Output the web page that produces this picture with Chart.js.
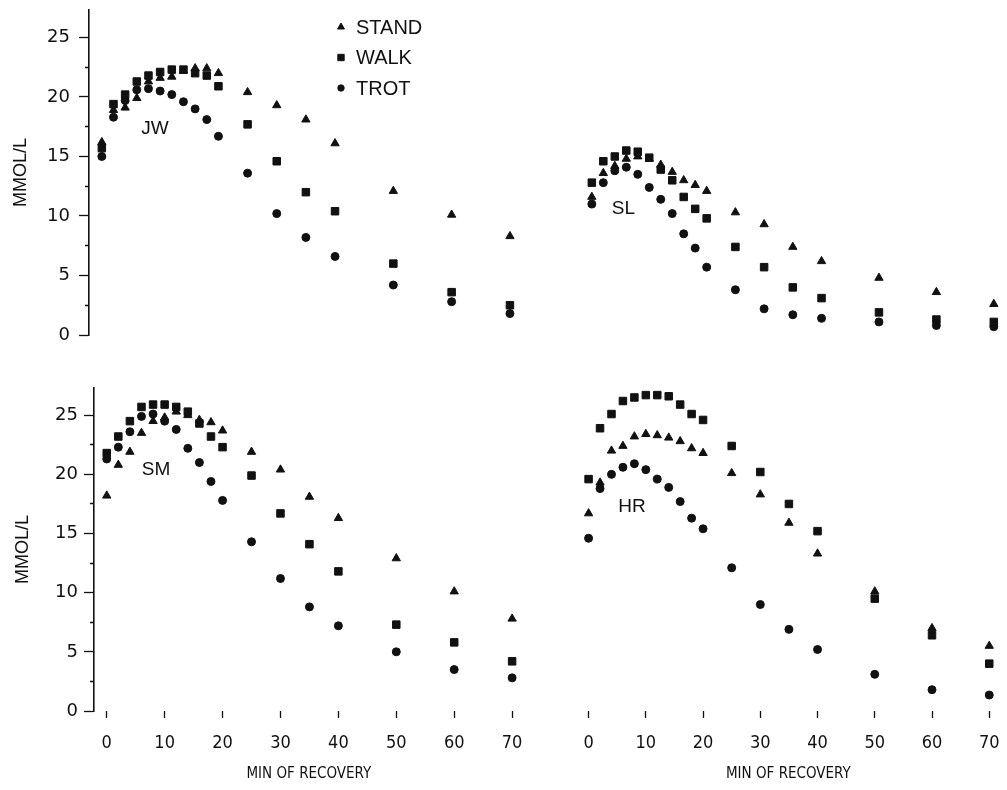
<!DOCTYPE html>
<html>
<head>
<meta charset="utf-8">
<script src="https://cdn.jsdelivr.net/npm/chart.js@4.4.1/dist/chart.umd.min.js"></script>
<style>
  html, body { margin: 0; padding: 0; background: #fff; }
  #wrap { position: relative; width: 1007px; height: 790px; overflow: hidden; }
  #wrap canvas { position: absolute; }
</style>
</head>
<body>
<div id="wrap">
  <canvas id="jw" width="530" height="370" style="left:0px;top:0px"></canvas>
  <canvas id="sl" width="477" height="370" style="left:530px;top:0px"></canvas>
  <canvas id="sm" width="530" height="420" style="left:0px;top:370px"></canvas>
  <canvas id="hr" width="477" height="420" style="left:530px;top:370px"></canvas>
</div>
<script>
// sampling times (min of recovery)
const minutes = [0, 2, 4, 6, 8, 10, 12, 14, 16, 18, 20, 25, 30, 35, 40, 50, 60, 70];
const seriesNames = ["STAND", "WALK", "TROT"];
const xTickValues = [0, 10, 20, 30, 40, 50, 60, 70];
const yTickValues = [0, 2.5, 5, 7.5, 10, 12.5, 15, 17.5, 20, 22.5, 25];
const yTickLabels = ["0", "", "5", "", "10", "", "15", "", "20", "", "25"];

// lactate, mmol/L
const jwStand = [16.2, 18.9, 19.1, 19.9, 21.3, 21.6, 21.7, 22.2, 22.4, 22.4, 22.0, 20.4, 19.3, 18.1, 16.1, 12.1, 10.1, 8.3];
const jwWalk  = [15.7, 19.4, 20.2, 21.3, 21.8, 22.1, 22.3, 22.3, 22.0, 21.8, 20.9, 17.7, 14.6, 12.0, 10.4, 6.0, 3.6, 2.5];
const jwTrot  = [15.0, 18.3, 19.7, 20.6, 20.7, 20.5, 20.2, 19.6, 19.0, 18.1, 16.7, 13.6, 10.2, 8.2, 6.6, 4.2, 2.8, 1.8];

const slStand = [11.6, 13.6, 14.2, 14.8, 15.0, 14.8, 14.3, 13.7, 13.0, 12.6, 12.1, 10.3, 9.3, 7.4, 6.2, 4.8, 3.6, 2.6];
const slWalk  = [12.8, 14.6, 15.0, 15.5, 15.4, 14.9, 13.9, 13.0, 11.6, 10.6, 9.8, 7.4, 5.7, 4.0, 3.1, 1.9, 1.3, 1.1];
const slTrot  = [11.0, 12.8, 13.8, 14.1, 13.5, 12.4, 11.4, 10.2, 8.5, 7.3, 5.7, 3.8, 2.2, 1.7, 1.4, 1.1, 0.8, 0.7];

const smStand = [18.2, 20.8, 21.9, 23.5, 24.5, 24.8, 25.3, 25.0, 24.6, 24.4, 23.7, 21.9, 20.4, 18.1, 16.3, 12.9, 10.1, 7.8];
const smWalk  = [21.8, 23.2, 24.5, 25.7, 25.9, 25.9, 25.7, 25.3, 24.3, 23.2, 22.3, 19.9, 16.7, 14.1, 11.8, 7.3, 5.8, 4.2];
const smTrot  = [21.3, 22.3, 23.6, 24.9, 25.1, 24.5, 23.8, 22.2, 21.0, 19.4, 17.8, 14.3, 11.2, 8.8, 7.2, 5.0, 3.5, 2.8];

const hrStand = [16.7, 19.3, 22.0, 22.4, 23.2, 23.4, 23.3, 23.1, 22.8, 22.2, 21.8, 20.1, 18.3, 15.9, 13.3, 10.1, 7.0, 5.5];
const hrWalk  = [19.6, 23.9, 25.1, 26.2, 26.5, 26.7, 26.7, 26.6, 25.9, 25.1, 24.6, 22.4, 20.2, 17.5, 15.2, 9.5, 6.4, 4.0];
const hrTrot  = [14.6, 18.8, 20.0, 20.6, 20.9, 20.4, 19.6, 18.9, 17.7, 16.3, 15.4, 12.1, 9.0, 6.9, 5.2, 3.1, 1.8, 1.35];

const INK = "#111";
const SANS = "'Liberation Sans', Arial, sans-serif";
const NARROW = "'Liberation Sans Narrow', 'DejaVu Sans Condensed', 'Liberation Sans', sans-serif";

Chart.defaults.font.family = SANS;
Chart.defaults.color = INK;

const markerStyles = [
  { pointStyle: "triangle", pointRadius: 4.8 },
  { pointStyle: "rect", pointRadius: 5.3 },
  { pointStyle: "circle", pointRadius: 4 }
];

// panel name + legend, drawn on top of the points
const panelText = {
  id: "panelText",
  afterDatasetsDraw(chart, args, opts) {
    const ctx = chart.ctx;
    const sx = chart.scales.x, sy = chart.scales.y;
    ctx.save();
    ctx.fillStyle = INK;
    ctx.font = "19px " + SANS;
    ctx.textAlign = "center";
    ctx.textBaseline = "middle";
    ctx.fillText(opts.tag, sx.getPixelForValue(opts.tagAt[0]), sy.getPixelForValue(opts.tagAt[1]));
    if (opts.legend) {
      const lg = opts.legend;
      chart.data.datasets.forEach(function (ds, i) {
        const ly = lg.y + i * lg.gap;
        ctx.fillStyle = ds.backgroundColor;
        ctx.strokeStyle = ds.borderColor;
        ctx.lineWidth = ds.borderWidth;
        Chart.helpers.drawPoint(ctx, { pointStyle: ds.pointStyle, radius: ds.pointRadius - 0.8, borderWidth: ds.borderWidth, rotation: 0 }, lg.x, ly);
        ctx.fillStyle = INK;
        ctx.font = "20px " + SANS;
        ctx.textAlign = "left";
        ctx.fillText(ds.label, lg.x + 15, ly + 1);
      });
    }
    ctx.restore();
  }
};

function series(vals) {
  return minutes.map(function (m, i) { return { x: m, y: vals[i] }; });
}

function makePanel(p) {
  const datasets = [p.stand, p.walk, p.trot].map(function (vals, i) {
    return {
      label: seriesNames[i],
      data: series(vals),
      pointStyle: markerStyles[i].pointStyle,
      pointRadius: markerStyles[i].pointRadius,
      backgroundColor: INK,
      borderColor: INK,
      borderWidth: 1,
      showLine: false,
      clip: false
    };
  });

  new Chart(document.getElementById(p.id).getContext("2d"), {
    type: "scatter",
    data: { datasets: datasets },
    plugins: [panelText],
    options: {
      responsive: false,
      animation: false,
      devicePixelRatio: 1,
      events: [],
      layout: { padding: p.pad },
      plugins: {
        legend: { display: false },
        tooltip: { enabled: false },
        panelText: { tag: p.tag, tagAt: p.tagAt, legend: p.legend }
      },
      scales: {
        x: {
          type: "linear",
          min: p.xMin,
          max: p.xMax,
          display: p.xAxis,
          afterBuildTicks: function (s) { s.ticks = xTickValues.map(function (v) { return { value: v }; }); },
          ticks: { padding: 15, autoSkip: false, maxRotation: 0, color: INK, font: { family: NARROW, size: 18 } },
          grid: { drawOnChartArea: false, tickLength: 7, tickColor: INK, tickWidth: 1.3 },
          border: { display: false },
          title: { display: true, text: "MIN OF RECOVERY", color: INK, font: { family: NARROW, size: 15 }, padding: { top: 0, bottom: 7 } },
          afterFit: function (s) {
            if (!p.xAxis) return;
            s.height = 79; s.paddingLeft = 0; s.paddingRight = 0;
          }
        },
        y: {
          type: "linear",
          min: 0,
          max: 27.3,
          display: p.yAxis,
          afterBuildTicks: function (s) { s.ticks = yTickValues.map(function (v) { return { value: v }; }); },
          ticks: {
            autoSkip: false,
            padding: p.labelGap,
            color: INK,
            font: { family: "'DejaVu Sans', sans-serif", size: 18 },
            callback: function (v, i) { return yTickLabels[i]; }
          },
          grid: {
            drawOnChartArea: false,
            tickLength: 10,
            tickColor: INK,
            tickWidth: 1.3,
            tickBorderDash: function (c) { return yTickLabels[c.index] ? [] : [0, 6, 4, 30]; }
          },
          border: { display: true, color: INK, width: 1.6 },
          title: { display: true, text: "MMOL/L", color: INK, font: { size: 18 }, padding: { top: p.titlePad, bottom: 0 } },
          afterFit: function (s) {
            if (!p.yAxis) return;
            s.width = p.axisWidth; s.paddingTop = 0; s.paddingBottom = 0;
          }
        }
      }
    }
  });
}

makePanel({
  id: "jw", tag: "JW", tagAt: [9.1, 17.3], stand: jwStand, walk: jwWalk, trot: jwTrot,
  xAxis: false, yAxis: true, xMin: -2.2, xMax: 72, axisWidth: 89, labelGap: 9, titlePad: 10,
  pad: { top: 10.1, right: 8.4, bottom: 35, left: 0 },
  legend: { x: 341, y: 27, gap: 30.5 }
});
makePanel({
  id: "sl", tag: "SL", tagAt: [5.5, 10.6], stand: slStand, walk: slWalk, trot: slTrot,
  xAxis: false, yAxis: false, xMin: -2.2, xMax: 71.2, axisWidth: 0, labelGap: 0, titlePad: 0,
  pad: { top: 10.1, right: 0, bottom: 35, left: 49.2 }
});
makePanel({
  id: "sm", tag: "SM", tagAt: [8.5, 20.4], stand: smStand, walk: smWalk, trot: smTrot,
  xAxis: true, yAxis: true, xMin: -2.2, xMax: 72, axisWidth: 94, labelGap: 6, titlePad: 12,
  pad: { top: 18, right: 2.7, bottom: 0, left: 0 }
});
makePanel({
  id: "hr", tag: "HR", tagAt: [7.6, 17.3], stand: hrStand, walk: hrWalk, trot: hrTrot,
  xAxis: true, yAxis: false, xMin: -2.2, xMax: 72, axisWidth: 0, labelGap: 0, titlePad: 0,
  pad: { top: 18, right: 0.5, bottom: 0, left: 46 }
});
</script>
</body>
</html>
